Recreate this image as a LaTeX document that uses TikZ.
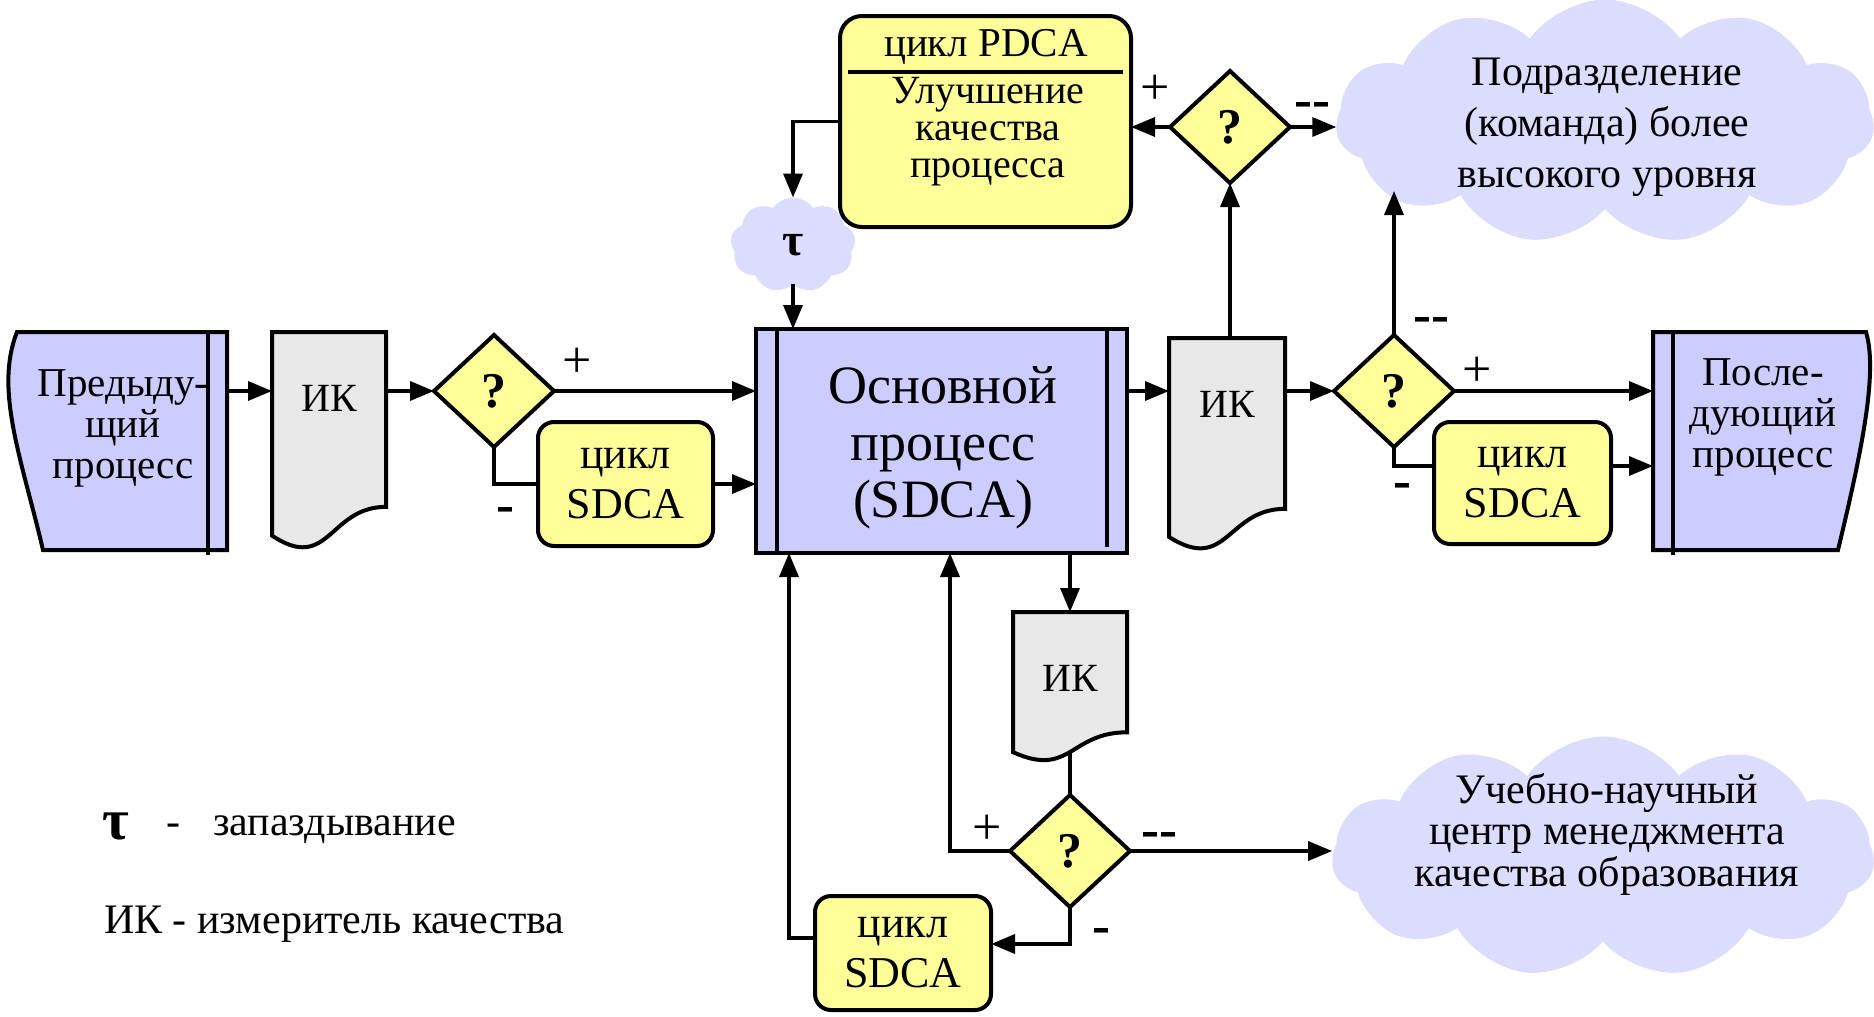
\documentclass[tikz,border=0pt]{standalone}
\usepackage{fontspec}
\setmainfont{Liberation Serif}
\usetikzlibrary{shapes.geometric,shapes.symbols,arrows.meta,positioning,calc}

\definecolor{procblue}{RGB}{204,204,255}
\definecolor{cloudblue}{RGB}{220,220,255}
\definecolor{cycleyellow}{RGB}{255,255,153}
\definecolor{docgray}{RGB}{232,232,232}

% quality meter (document shape): name, left, top, width, height
\newcommand{\ikdoc}[5]{%
  \begin{scope}[shift={(#2,#3)}]
    \draw[docline] (0,0) -- (#4,0) -- (#4,{0.802*#5})
      .. controls ({0.5*#4},{0.802*#5}) and ({0.5*#4},{1.108*#5}) .. (0,{0.934*#5}) -- cycle;
    \node[docbox,minimum width=#4,minimum height=0.933*#5] (#1) at ({0.5*#4},{0.4665*#5}) {};
    \node[iktext] (#1t) at ({0.5*#4},66) {ИК};
  \end{scope}}

\begin{document}
\begin{tikzpicture}[x=1pt,y=-1pt,
    every node/.style={inner sep=0pt,outer sep=0pt},
    link/.style={line width=3.5pt},
    arr/.style={line width=3.5pt,-{Triangle[length=24pt,width=19pt]}},
    thickframe/.style={line width=4pt},
    procbox/.style={rectangle,draw,thickframe,fill=procblue},
    sideline/.style={draw,thickframe,fill=procblue},
    sidebox/.style={rectangle,minimum height=218pt},
    sidetext/.style={align=center,font=\fontsize{41}{41}\selectfont},
    docline/.style={draw,thickframe,fill=docgray},
    docbox/.style={rectangle},
    iktext/.style={font=\fontsize{40}{40}\selectfont},
    cyclebox/.style={rectangle,rounded corners=16pt,draw,thickframe,fill=cycleyellow,
                     align=center,font=\fontsize{44}{50}\selectfont},
    check/.style={diamond,draw,thickframe,fill=cycleyellow,minimum width=120pt,
                  minimum height=112pt,font=\fontsize{50}{50}\selectfont\bfseries},
    cloudshape/.style={cloud,cloud puffs=11,cloud puff arc=110,aspect=2.2,fill=cloudblue},
    cloudtext/.style={align=center},
    sign/.style={font=\fontsize{52}{52}\selectfont},
    bsign/.style={font=\fontsize{54}{54}\selectfont\bfseries},
    legendtext/.style={font=\fontsize{42}{42}\selectfont}]

\useasboundingbox (0,0) rectangle (1874,1017);

% clouds
\node[cloudshape,minimum width=538pt,minimum height=245pt] (hq) at (1605,122) {};
\node[cloudtext,font=\fontsize{42}{51}\selectfont] (hqt) at (1607,127) {Подразделение\\(команда) более\\высокого уровня};
\node[cloudshape,minimum width=542pt,minimum height=241pt] (unc) at (1603,857) {};
\node[cloudtext,font=\fontsize{42}{41.5}\selectfont] (unct) at (1607,834) {Учебно-научный\\центр менеджмента\\качества образования};
\node[cloudshape,cloud puffs=9,aspect=1.3,minimum width=125pt,minimum height=95pt,
      font=\fontsize{46}{46}\selectfont\bfseries] (tau) at (793,245) {τ};
\coordinate (hqin) at (1394,191);

% previous process
\draw[sideline] (17,332) -- (227,332) -- (227,550) -- (43,550)
  .. controls (22,460) and (-6,390) .. (17,332) -- cycle;
\draw[thickframe] (208,332) -- (208,555);
\node[sidebox,minimum width=222pt] (prev) at (116,441) {};
\node[sidetext] (prevt) at (123,428) {Предыду-\\щий\\процесс};

% next process
\draw[sideline] (1653,332) -- (1866,332)
  .. controls (1878,372) and (1862,450) .. (1838,550) -- (1653,550) -- cycle;
\draw[thickframe] (1673,332) -- (1673,555);
\node[sidebox,minimum width=217pt] (next) at (1761.5,441) {};
\node[sidetext] (nextt) at (1763,417) {После-\\дующий\\процесс};

% main process
\node[procbox,minimum width=371pt,minimum height=224pt] (main) at (941.5,441) {};
\node[align=center,font=\fontsize{54}{57}\selectfont] (maint) at (943,448) {Основной\\процесс\\(SDCA)};
\draw[thickframe] ([xshift=21pt]main.north west) -- ([xshift=21pt]main.south west);
\draw[thickframe] ([xshift=-20pt]main.north east) -- ([xshift=-20pt,yshift=6pt]main.south east);

% PDCA cycle
\node[cyclebox,rounded corners=22pt,minimum width=291pt,minimum height=211pt] (pdca) at (985.5,121.5) {};
\node[font=\fontsize{41}{41}\selectfont] (pdcat) at (986,47) {цикл PDCA};
\draw[thickframe] ([xshift=8pt,yshift=-56pt]pdca.north west) -- ([xshift=-8pt,yshift=-56pt]pdca.north east);
\node[align=center,font=\fontsize{40}{37}\selectfont] (pdcab) at (988,132) {Улучшение\\качества\\процесса};

% quality meters
\ikdoc{ik1}{272}{332}{114}{218}
\ikdoc{ik2}{1169}{338}{116}{213}
\ikdoc{ik3}{1013}{612}{114}{150}

% checks
\node[check] (d1) at (494,391) {?};
\node[check] (d2) at (1230,127) {?};
\node[check] (d3) at (1394,391) {?};
\node[check] (d4) at (1070,851) {?};

% SDCA cycles
\node[cyclebox,minimum width=175pt,minimum height=124pt] (sd1) at (625.5,484) {цикл\\SDCA};
\node[cyclebox,minimum width=177pt,minimum height=122pt] (sd2) at (1522.5,483) {цикл\\SDCA};
\node[cyclebox,minimum width=176pt,minimum height=114pt] (sd3) at (903,953) {цикл\\SDCA};
\coordinate (sd2in) at ([yshift=17pt]sd2.west);
\coordinate (sd2out) at ([yshift=17pt]sd2.east);
\coordinate (sd3in) at ([yshift=9pt]sd3.east);
\coordinate (sd3out) at ([yshift=15pt]sd3.west);

% connectors
\draw[arr] (prev.east |- d1) -- (ik1.west |- d1);
\draw[arr] (ik1.east |- d1) -- (d1.west);
\draw[arr] (d1.east) -- (d1.east -| main.west);
\draw[link] (d1.south) |- (sd1.west);
\draw[arr] (sd1.east) -- (sd1.east -| main.west);
\draw[arr] (main.east |- d3) -- (ik2.west |- d3);
\draw[arr] (ik2.east |- d3) -- (d3.west);
\draw[arr] (d3.east) -- (d3.east -| next.west);
\draw[link] (d3.south) |- (sd2in);
\draw[arr] (sd2out) -- (sd2out -| next.west);
\draw[arr] (d3.north) -- (hqin);
\draw[arr] (d2.south |- ik2.north) -- (d2.south);
\draw[arr] (d2.west) -- (d2.west -| pdca.east);
\draw[arr] (d2.east) -- (d2.east -| hq.west);
\draw[arr] (pdca.west) -| (tau.north);
\draw[arr] (tau.south) -- (tau.south |- main.north);
\draw[arr] (ik3.north |- main.south) -- (ik3.north);
\draw[link] (ik3.south) -- (d4.north);
\draw[arr] (d4.west) -| ([xshift=194pt]main.south west);
\draw[arr] (d4.east) -- (d4.east -| unc.west);
\draw[arr] (d4.south) |- (sd3in);
\draw[arr] (sd3out) -| ([xshift=33pt]main.south west);

% signs
\node[sign] (p1) at (577,363) {+};
\node[bsign] (m1) at (505,515) {-};
\node[sign] (p2) at (1155,90) {+};
\node[bsign] (mm2) at (1312,110) {-{}-};
\node[bsign] (mm3) at (1431,325) {-{}-};
\node[sign] (p3) at (1477,372) {+};
\node[bsign] (m3) at (1402,491) {-};
\node[sign] (p4) at (987,830) {+};
\node[bsign] (mm4) at (1159,840) {-{}-};
\node[bsign] (m4) at (1101,936) {-};

% legend
\node[font=\fontsize{58}{58}\selectfont\bfseries] (taulg) at (116,826) {τ};
\node[legendtext] (dash1) at (173,830) {-};
\node[legendtext,anchor=west] (taudesc) at (213,830) {запаздывание};
\node[legendtext,anchor=west] (ikdesc) at (104,924) {ИК - измеритель качества};

\end{tikzpicture}
\end{document}
